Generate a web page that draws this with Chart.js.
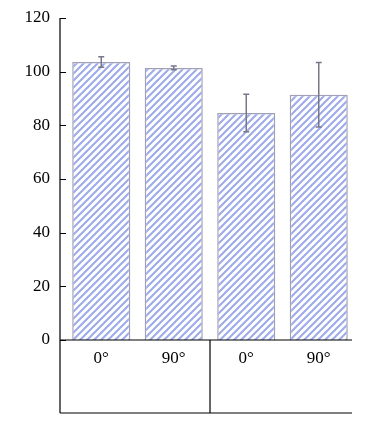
<!DOCTYPE html>
<html>
<head>
<meta charset="utf-8">
<script src="https://cdn.jsdelivr.net/npm/chart.js@4/dist/chart.umd.min.js"></script>
<style>
  html, body { margin: 0; padding: 0; background: #fff; }
  #wrap { width: 386px; height: 424px; }
</style>
</head>
<body>
<div id="wrap"><canvas id="chart" width="386" height="424"></canvas></div>
<script>
// ---------- Data ----------
const labels = ["0°", "90°", "0°", "90°"];
const means = [103.6, 101.4, 84.6, 91.4];
const errors = [2.0, 0.7, 7.0, 12.0];
const yTicks = [0, 20, 40, 60, 80, 100, 120];

// axis line sits a bit left of the plot area in the original
const AXIS_X = 60;
const TABLE_RIGHT = 352;

// ---------- Hatch pattern ----------
function makeHatch() {
  const s = 7;
  const c = document.createElement("canvas");
  c.width = s; c.height = s;
  const g = c.getContext("2d");
  g.fillStyle = "#ffffff";
  g.fillRect(0, 0, s, s);
  g.strokeStyle = "#9daaea";
  g.lineWidth = 2;
  g.beginPath();
  g.moveTo(0, s); g.lineTo(s, 0);
  g.moveTo(-1, 1); g.lineTo(1, -1);
  g.moveTo(s - 1, s + 1); g.lineTo(s + 1, s - 1);
  g.stroke();
  return g.createPattern(c, "repeat");
}

// ---------- Error bars ----------
const errorBars = {
  id: "errorBars",
  afterDatasetsDraw(chart) {
    const { ctx, scales: { y } } = chart;
    const meta = chart.getDatasetMeta(0);
    ctx.save();
    ctx.strokeStyle = "#77778a";
    ctx.lineWidth = 1.5;
    meta.data.forEach((bar, i) => {
      const x = bar.x;
      const top = y.getPixelForValue(means[i] + errors[i]);
      const bot = y.getPixelForValue(means[i] - errors[i]);
      ctx.beginPath();
      ctx.moveTo(x, top); ctx.lineTo(x, bot);
      ctx.moveTo(x - 3, top); ctx.lineTo(x + 3, top);
      ctx.moveTo(x - 3, bot); ctx.lineTo(x + 3, bot);
      ctx.stroke();
    });
    ctx.restore();
  }
};

// ---------- Axis lines, ticks and the table under the x axis ----------
const frame = {
  id: "frame",
  afterDraw(chart) {
    const { ctx, chartArea: a, scales: { x, y } } = chart;
    const bottom = x.bottom;
    const mid = (x.getPixelForValue(1) + x.getPixelForValue(2)) / 2;
    ctx.save();
    ctx.strokeStyle = "#000";
    ctx.lineWidth = 1.2;
    ctx.beginPath();
    // y axis + inward ticks
    ctx.moveTo(AXIS_X, a.top); ctx.lineTo(AXIS_X, bottom);
    yTicks.forEach(v => {
      const py = Math.round(y.getPixelForValue(v)) + 0.5;
      ctx.moveTo(AXIS_X, py); ctx.lineTo(AXIS_X + 6, py);
    });
    // table
    ctx.moveTo(AXIS_X, a.bottom); ctx.lineTo(TABLE_RIGHT, a.bottom);
    ctx.moveTo(AXIS_X, bottom); ctx.lineTo(TABLE_RIGHT, bottom);
    ctx.moveTo(mid, a.bottom); ctx.lineTo(mid, bottom);
    ctx.stroke();
    ctx.restore();
  }
};

const font = { family: "'Liberation Serif', 'DejaVu Serif', serif", size: 17 };

new Chart(document.getElementById("chart"), {
  type: "bar",
  data: {
    labels: labels,
    datasets: [{
      data: means,
      backgroundColor: makeHatch(),
      borderColor: "rgba(150,150,175,0.9)",
      borderWidth: 1.5,
      barPercentage: 0.89,
      categoryPercentage: 0.9
    }]
  },
  options: {
    responsive: false,
    animation: false,
    layout: { padding: { top: 18, right: 31, bottom: 11, left: 0 } },
    plugins: { legend: { display: false }, tooltip: { enabled: false } },
    scales: {
      x: {
        grid: { display: false },
        border: { display: false },
        ticks: { color: "#000", font: font, padding: 0 },
        afterFit(scale) { scale.height = 73; scale.paddingLeft = 0; scale.paddingRight = 0; }
      },
      y: {
        min: 0,
        max: 120,
        afterBuildTicks(scale) { scale.ticks = yTicks.map(v => ({ value: v })); },
        grid: { display: false, drawTicks: false },
        border: { display: false },
        ticks: { color: "#000", font: font, padding: 15 },
        afterFit(scale) { scale.width = 65; scale.paddingTop = 0; scale.paddingBottom = 0; }
      }
    }
  },
  plugins: [errorBars, frame]
});
</script>
</body>
</html>
